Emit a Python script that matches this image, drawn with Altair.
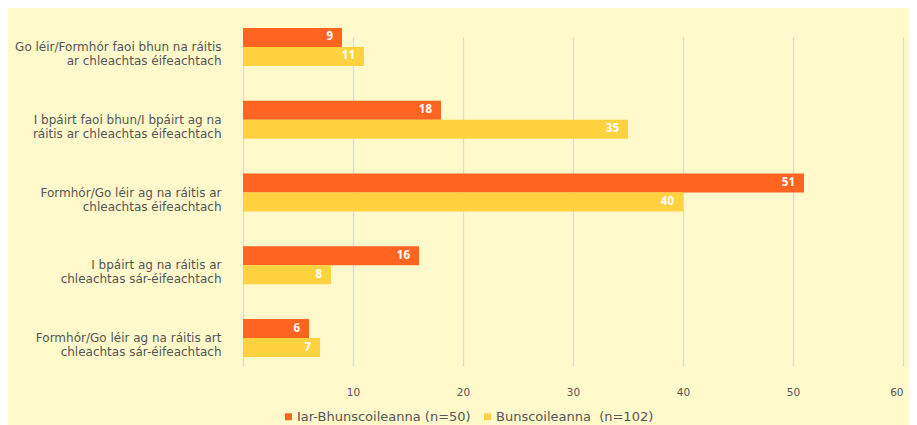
import altair as alt
import pandas as pd

categories = [
    "Go léir/Formhór faoi bhun na ráitis|ar chleachtas éifeachtach",
    "I bpáirt faoi bhun/I bpáirt ag na|ráitis ar chleachtas éifeachtach",
    "Formhór/Go léir ag na ráitis ar|chleachtas éifeachtach",
    "I bpáirt ag na ráitis ar|chleachtas sár-éifeachtach",
    "Formhór/Go léir ag na ráitis art|chleachtas sár-éifeachtach",
]
series = ["Iar-Bhunscoileanna (n=50)", "Bunscoileanna\u00a0 (n=102)"]
post_primary = [9, 18, 51, 16, 6]
primary = [11, 35, 40, 8, 7]
colors = ["#FF6420", "#FFD23F"]

rows = []
for c, a, b in zip(categories, post_primary, primary):
    rows.append({"cat": c, "series": series[0], "value": a})
    rows.append({"cat": c, "series": series[1], "value": b})
df = pd.DataFrame(rows)

FONT = "DejaVu Sans"
TXT = "#555555"

y_enc = alt.Y("cat:N", sort=categories,
              scale=alt.Scale(range=[17, 346], paddingInner=0.478, paddingOuter=0),
              axis=alt.Axis(title=None, labelExpr="split(datum.label, '|')",
                            labelFont=FONT, labelFontSize=12, labelColor=TXT,
                            labelLineHeight=14, labelPadding=22, ticks=False,
                            domain=False, grid=False, labelLimit=300))
yoff = alt.YOffset("series:N", sort=series, scale=alt.Scale(paddingInner=0, paddingOuter=0))
x_enc = alt.X("value:Q", scale=alt.Scale(domain=[0, 60], nice=False),
              axis=alt.Axis(title=None, values=[0, 10, 20, 30, 40, 50, 60],
                            labelExpr="datum.value == 0 ? '' : datum.label",
                            labelFont=FONT, labelFontSize=10.5, labelColor=TXT,
                            labelPadding=4, ticks=False, domain=False,
                            grid=True, gridColor="#DEDBCF", gridWidth=1.3))

base = alt.Chart(df)
bars = base.mark_bar().encode(
    y=y_enc, yOffset=yoff, x=x_enc,
    color=alt.Color("series:N", sort=series,
                    scale=alt.Scale(domain=series, range=colors),
                    legend=alt.Legend(title=None, orient="none", direction="horizontal",
                                      legendX=39, legendY=399, symbolType="square",
                                      symbolSize=49, symbolStrokeWidth=0,
                                      labelFont=FONT, labelFontSize=13, labelColor=TXT,
                                      labelLimit=400, columnPadding=10, symbolOffset=0,
                                      labelOffset=2)),
)
labels = base.mark_text(align="right", baseline="middle", dx=-9, color="white",
                        font="Open Sans", fontWeight="bold", fontSize=11.5).encode(
    y=alt.Y("cat:N", sort=categories), yOffset=alt.YOffset("series:N", sort=series),
    x="value:Q", text="value:Q")

chart = alt.layer(bars, labels).properties(
    width=660, height=372,
    autosize=alt.AutoSizeParams(type="none"),
    padding={"left": 235, "top": 3, "right": 6, "bottom": 45},
    background="#FFF9CB",
).configure_view(stroke=None)

chart.save("out.html", embed_options={"renderer": "svg", "actions": False})
